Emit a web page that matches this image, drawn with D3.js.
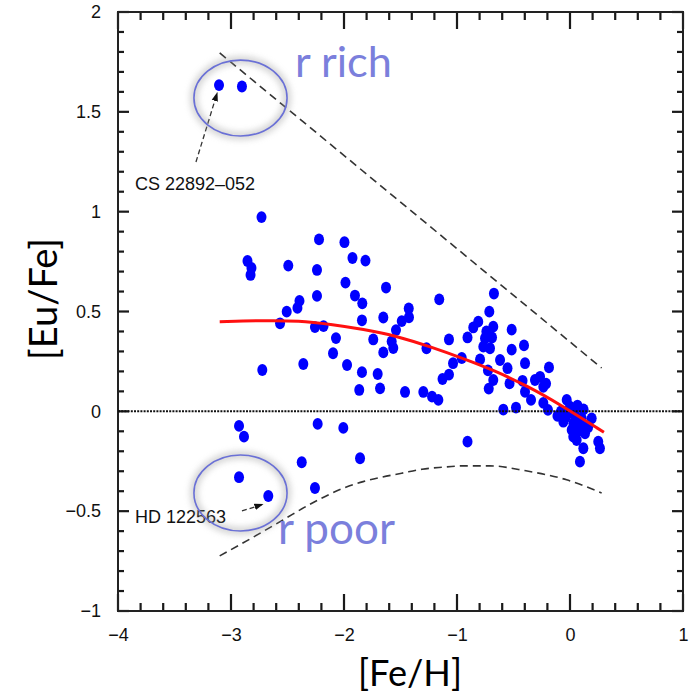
<!DOCTYPE html>
<html><head><meta charset="utf-8">
<script src="https://cdn.jsdelivr.net/npm/d3@7"></script>
<style>body{margin:0;background:#fff;} svg{display:block}</style>
</head><body>
<svg id="chart" width="689" height="695"></svg>
<script>
// ---- data ----
const starFeH = [-3.106,-2.903,-2.730,-2.854,-2.819,-2.827,-2.493,-2.221,-2.239,-2.239,-2.394,-2.412,-2.507,-2.566,-2.257,-2.181,-2.071,-1.996,-1.925,-1.810,-1.987,-1.628,-1.903,-1.838,-2.723,-2.360,-2.097,-2.929,-2.885,-2.233,-2.374,-2.929,-2.257,-2.670,-1.427,-1.157,-1.841,-1.652,-1.489,-1.425,-1.540,-1.741,-1.578,-1.564,-1.652,-1.270,-1.071,-0.907,-0.958,-1.035,-1.071,-1.128,-1.973,-1.841,-1.702,-1.865,-1.681,-1.460,-1.298,-1.221,-1.165,-2.006,-1.858,-0.907,-0.673,-0.714,-0.812,-0.856,-0.679,-0.516,-0.752,-0.767,-0.708,-0.516,-0.407,-0.796,-0.619,-0.398,-0.553,-0.726,-0.679,-0.719,-0.535,-0.420,-0.186,-0.265,-0.212,-0.398,-0.345,-0.590,-0.478,-0.236,-0.195,-0.111,-0.310,0.000,0.066,-0.059,0.015,0.104,0.192,0.059,0.118,0.088,0.250,0.265,0.133,-0.029,0.148,0.044,-0.018,0.071,0.029,-0.236,0.030,0.100,-0.040,0.160,0.070,-0.080,0.120,-0.740,-0.690];
const starEuFe = [1.634,1.627,0.973,0.753,0.718,0.683,0.730,0.861,0.708,0.578,0.553,0.518,0.499,0.441,0.422,0.427,0.367,0.847,0.768,0.755,0.645,0.620,0.580,0.541,0.207,0.237,0.291,-0.073,-0.127,-0.063,-0.255,-0.330,-0.384,-0.424,0.515,0.561,0.456,0.470,0.452,0.471,0.407,0.360,0.350,0.317,0.295,0.316,0.360,0.370,0.267,0.241,0.184,0.162,0.232,0.196,0.187,0.107,0.115,0.097,0.097,0.074,0.057,-0.083,-0.235,-0.152,0.590,0.499,0.449,0.420,0.424,0.409,0.366,0.324,0.316,0.309,0.330,0.260,0.257,0.241,0.216,0.205,0.157,0.114,0.140,0.153,0.220,0.173,0.139,0.098,0.057,0.009,0.019,0.042,0.007,-0.023,0.157,0.023,0.029,-0.052,-0.093,-0.035,-0.035,-0.144,-0.185,-0.252,-0.152,-0.185,-0.110,0.057,-0.077,-0.018,-0.013,-0.068,-0.127,0.123,-0.060,-0.060,-0.030,-0.080,-0.100,0.000,0.010,0.400,0.370];

const fitFeH  = [-3.1,-2.7,-2.4,-2.12,-1.83,-1.53,-1.24,-0.93,-0.68,-0.37,-0.09,0.3];
const fitEuFe = [0.449,0.455,0.454,0.436,0.411,0.377,0.324,0.262,0.207,0.125,0.035,-0.105];

const upperFeH  = [-3.1, 0.28];
const upperEuFe = [1.795, 0.217];

const lowerFeH  = [-3.1,-2.8,-2.54,-2.28,-2.01,-1.83,-1.67,-1.49,-1.31,-1.13,-0.94,-0.71,-0.39,-0.03,0.28];
const lowerEuFe = [-0.724,-0.629,-0.544,-0.459,-0.386,-0.352,-0.330,-0.310,-0.290,-0.280,-0.273,-0.273,-0.298,-0.343,-0.409];

const xTickValues = [-4,-3,-2,-1,0,1];
const xTickLabels = ["\u22124","\u22123","\u22122","\u22121","0","1"];
const yTickValues = [-1,-0.5,0,0.5,1,1.5,2];
const yTickLabels = ["\u22121","\u22120.5","0","0.5","1","1.5","2"];

const starNames = ["CS 22892\u2013052","HD 122563"];
const groupLabels = ["r rich","r poor"];
const xTitle = "[Fe/H]";
const yTitle = "[Eu/Fe]";

// ---- layout ----
const W = 689, H = 695;
const M = {left:118, top:12, right:6, bottom:84};
const svg = d3.select("#chart");
const x = d3.scaleLinear([-4,1],[M.left, W-M.right]);
const y = d3.scaleLinear([-1,2],[H-M.bottom, M.top]);
const x0 = x(-4), x1 = x(1), yb = y(-1), yt0 = y(2);

const defs = svg.append("defs");
const glow = defs.append("filter").attr("id","glow").attr("x","-30%").attr("y","-30%").attr("width","160%").attr("height","160%");
glow.append("feGaussianBlur").attr("stdDeviation",3.5);
defs.append("marker").attr("id","arr").attr("viewBox","0 0 10 10").attr("refX",9).attr("refY",5)
  .attr("markerWidth",7).attr("markerHeight",7).attr("orient","auto-start-reverse")
  .append("path").attr("d","M0,1.5 L10,5 L0,8.5 z").attr("fill","#111");

// minor tick positions
const xMinor = d3.range(-4,1.0001,0.2).map(v=>+v.toFixed(2)).filter(v=>!xTickValues.includes(v));
const yMinor = d3.range(-1,2.0001,0.1).map(v=>+v.toFixed(2)).filter(v=>!yTickValues.some(t=>Math.abs(t-v)<1e-6));

// tick labels via d3 axes
const tickFont = g=>g.selectAll("text").attr("font-family","Liberation Sans, Arial, sans-serif").attr("font-size",18).attr("fill","#111");
svg.append("g").attr("transform",`translate(0,${yb})`)
  .call(d3.axisBottom(x).tickValues(xTickValues).tickSize(0).tickPadding(17).tickFormat((d,i)=>xTickLabels[i]))
  .call(g=>g.select(".domain").remove()).call(tickFont);
svg.append("g").attr("transform",`translate(${x0},0)`)
  .call(d3.axisLeft(y).tickValues(yTickValues).tickSize(0).tickPadding(17).tickFormat((d,i)=>yTickLabels[i]))
  .call(g=>g.select(".domain").remove()).call(tickFont);

// inward tick marks on all four sides, drawn as thin filled rects
const tickG = svg.append("g").attr("class","tickmarks");
const TW = 2.2;
const xt = [...xTickValues.map(v=>({v,len:17})), ...xMinor.map(v=>({v,len:8}))];
const ytk = [...yTickValues.map(v=>({v,len:11})), ...yMinor.map(v=>({v,len:6}))];
tickG.selectAll("rect.xb").data(xt).join("rect").attr("class","xb")
  .attr("x",d=>x(d.v)-TW/2).attr("y",d=>yb-d.len).attr("width",TW).attr("height",d=>d.len).attr("fill","#1a1a1a");
tickG.selectAll("rect.xt").data(xt).join("rect").attr("class","xt")
  .attr("x",d=>x(d.v)-TW/2).attr("y",yt0).attr("width",TW).attr("height",d=>d.len).attr("fill","#1a1a1a");
tickG.selectAll("rect.yl").data(ytk).join("rect").attr("class","yl")
  .attr("x",x0).attr("y",d=>y(d.v)-TW/2).attr("width",d=>d.len).attr("height",TW).attr("fill","#1a1a1a");
tickG.selectAll("rect.yr").data(ytk).join("rect").attr("class","yr")
  .attr("x",d=>x1-d.len).attr("y",d=>y(d.v)-TW/2).attr("width",d=>d.len).attr("height",TW).attr("fill","#1a1a1a");

svg.append("rect").attr("x",x0).attr("y",yt0).attr("width",x1-x0).attr("height",yb-yt0)
  .attr("fill","none").attr("stroke","#222").attr("stroke-width",2);

// bounds
const line = d3.line().x(d=>x(d[0])).y(d=>y(d[1]));
svg.append("path").datum(d3.zip(upperFeH,upperEuFe)).attr("d",line)
  .attr("fill","none").attr("stroke","#333").attr("stroke-width",1.6).attr("stroke-dasharray","8,5");
svg.append("path").datum(d3.zip(lowerFeH,lowerEuFe)).attr("d",line.curve(d3.curveMonotoneX))
  .attr("fill","none").attr("stroke","#333").attr("stroke-width",1.6).attr("stroke-dasharray","8,5");

// stars
svg.append("g").selectAll("ellipse").data(d3.zip(starFeH,starEuFe)).join("ellipse")
  .attr("cx",d=>x(d[0])).attr("cy",d=>y(d[1])).attr("rx",5).attr("ry",5.9).attr("fill","#0000ff");

// zero line
svg.append("line").attr("x1",x0).attr("x2",x1).attr("y1",y(0)).attr("y2",y(0))
  .attr("stroke","#111").attr("stroke-width",2).attr("stroke-dasharray","2,1.2");

// fit
svg.append("path").datum(d3.zip(fitFeH,fitEuFe))
  .attr("d",d3.line().x(d=>x(d[0])).y(d=>y(d[1])).curve(d3.curveBasis))
  .attr("fill","none").attr("stroke","#ff1010").attr("stroke-width",3);

// star name labels and arrows
const ann = svg.append("g").attr("font-family","Liberation Sans, Arial, sans-serif").attr("font-size",18).attr("fill","#111");
ann.append("text").attr("x",x(-3.85)).attr("y",y(1.109)).text(starNames[0]);
ann.append("text").attr("x",x(-3.85)).attr("y",y(-0.559)).text(starNames[1]);
svg.append("line").attr("x1",x(-3.31)).attr("y1",y(1.249)).attr("x2",x(-3.122)).attr("y2",y(1.595))
  .attr("stroke","#333").attr("stroke-width",1.3).attr("stroke-dasharray","5,3").attr("marker-end","url(#arr)");
svg.append("line").attr("x1",x(-2.903)).attr("y1",y(-0.499)).attr("x2",x(-2.72)).attr("y2",y(-0.466))
  .attr("stroke","#333").attr("stroke-width",1.3).attr("stroke-dasharray","5,3").attr("marker-end","url(#arr)");

// circled groups
const circles = [[-2.916,1.569],[-2.916,-0.409]];
const rxD = 0.412, ryD = 0.19;
circles.forEach(c=>{
  svg.append("ellipse").attr("cx",x(c[0])).attr("cy",y(c[1]))
    .attr("rx",x(c[0]+rxD)-x(c[0])).attr("ry",y(c[1])-y(c[1]+ryD))
    .attr("fill","none").attr("stroke","#9a9a9a").attr("stroke-width",6).attr("opacity",0.55).attr("filter","url(#glow)");
  svg.append("ellipse").attr("cx",x(c[0])).attr("cy",y(c[1]))
    .attr("rx",x(c[0]+rxD)-x(c[0])).attr("ry",y(c[1])-y(c[1]+ryD))
    .attr("fill","none").attr("stroke","#6a70d6").attr("stroke-width",1.6);
});

function fitWidth(t, w){ const l = t.node().getComputedTextLength(); const fs = +t.attr("font-size"); t.attr("font-size", fs*w/l); }

const g1 = svg.append("text").attr("x",x(-2.434)).attr("y",y(1.674)).attr("font-family","Lato, sans-serif").attr("font-size",36).attr("fill","#7b7fdc").text(groupLabels[0]);
fitWidth(g1, 97);
const g2 = svg.append("text").attr("x",x(-2.584)).attr("y",y(-0.664)).attr("font-family","Lato, sans-serif").attr("font-size",36).attr("fill","#7b7fdc").text(groupLabels[1]);
fitWidth(g2, 117);

const xT = svg.append("text").attr("x",410).attr("y",686).attr("text-anchor","middle").attr("font-family","Lato, sans-serif").attr("font-size",34).attr("fill","#000").text(xTitle);
fitWidth(xT, 104);
const yT = svg.append("text").attr("transform","translate(57,299) rotate(-90)").attr("text-anchor","middle").attr("font-family","Lato, sans-serif").attr("font-size",34).attr("fill","#000").text(yTitle);
fitWidth(yT, 122);
</script>
</body></html>
